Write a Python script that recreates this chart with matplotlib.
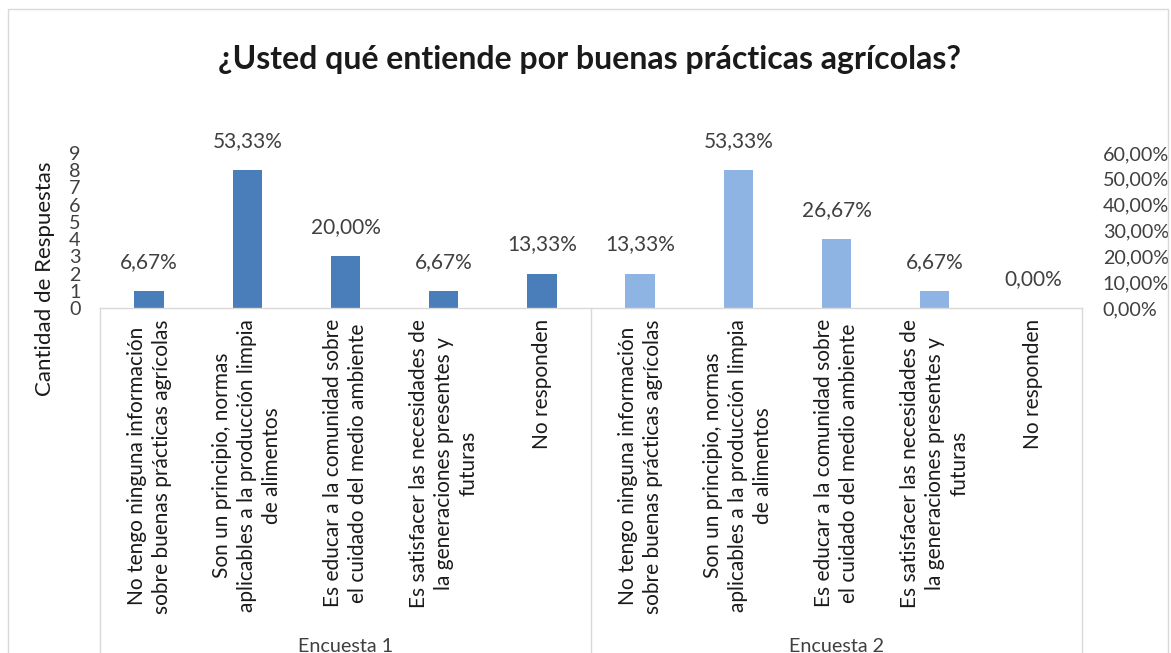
import matplotlib
matplotlib.use("Agg")
import matplotlib.pyplot as plt
from matplotlib.transforms import blended_transform_factory
from matplotlib.lines import Line2D
from matplotlib.patches import Rectangle

# ---- data ----
categories = [
    "No tengo ninguna información\nsobre buenas prácticas agrícolas",
    "Son un principio, normas\naplicables a la producción limpia\nde alimentos",
    "Es educar a la comunidad sobre\nel cuidado del medio ambiente",
    "Es satisfacer las necesidades de\nla generaciones presentes y\nfuturas",
    "No responden",
]
groups = ["Encuesta 1", "Encuesta 2"]
counts_e1 = [1, 8, 3, 1, 2]
counts_e2 = [2, 8, 4, 1, 0]
pct_e1 = [6.67, 53.33, 20.00, 6.67, 13.33]
pct_e2 = [13.33, 53.33, 26.67, 6.67, 0.00]
left_ticks = [0, 1, 2, 3, 4, 5, 6, 7, 8, 9]
right_ticks = [0, 10, 20, 30, 40, 50, 60]

title = "¿Usted qué entiende por buenas prácticas agrícolas?"
ylabel = "Cantidad de Respuestas"

color_e1 = "#4a7ebb"
color_e2 = "#8db4e2"
grid_col = "#d9d9d9"
txt_dark = "#404040"

plt.rcParams['font.family'] = ['Lato', 'DejaVu Sans']

W, H = 1171, 653
fig = plt.figure(figsize=(W / 100, H / 100), dpi=100)

# chart outer frame
fig.add_artist(Rectangle((8 / W, -0.05), (1168 - 8) / W, 1.05 - 9 / H,
                         transform=fig.transFigure, fill=False,
                         edgecolor=grid_col, linewidth=1.0))

ax_left, ax_right, ax_bot, ax_top = 100, 1082, 308, 153
ax = fig.add_axes([ax_left / W, (H - ax_bot) / H,
                   (ax_right - ax_left) / W, (ax_bot - ax_top) / H])

n = len(categories)
x1 = list(range(n))
x2 = list(range(n, 2 * n))
bw = 0.30
ax.bar(x1, counts_e1, width=bw, color=color_e1)
ax.bar(x2, counts_e2, width=bw, color=color_e2)

ax.set_xlim(-0.5, 2 * n - 0.5)
ax.set_ylim(left_ticks[0], left_ticks[-1])

fs_lab = 15
fs_tick = 14.2

def fmt(p):
    return f"{p:.2f}".replace('.', ',') + '%'

for xs, cs, ps in ((x1, counts_e1, pct_e1), (x2, counts_e2, pct_e2)):
    for xx, c, p in zip(xs, cs, ps):
        ax.annotate(fmt(p), (xx, c), xytext=(0, 21), textcoords='offset points',
                    ha='center', va='center', fontsize=fs_lab, color=txt_dark,
                    annotation_clip=False)

# spines
for s in ('top', 'left', 'right'):
    ax.spines[s].set_visible(False)
ax.spines['bottom'].set_color(grid_col)
ax.spines['bottom'].set_linewidth(1.0)

# left ticks
ax.set_yticks(left_ticks)
ax.set_yticklabels([str(t) for t in left_ticks])
ax.tick_params(axis='y', length=0, pad=14, labelsize=fs_tick, labelcolor=txt_dark)

# x tick labels (categories)
ax.set_xticks(x1 + x2)
ax.set_xticklabels(categories + categories, rotation=90, ha='center', va='top',
                   multialignment='center', fontsize=15, color='#1a1a1a',
                   linespacing=1.32)
ax.tick_params(axis='x', length=0, pad=8)

# y label
ax.set_ylabel(ylabel, fontsize=16, color='#1a1a1a')
ax.yaxis.set_label_coords((45 - ax_left) / (ax_right - ax_left),
                          (ax_bot - 279) / (ax_bot - ax_top))
ax.yaxis.label.set_rotation_mode('default')
ax.yaxis.label.set_va('center')
ax.yaxis.label.set_ha('center')

# right axis (percent)
ax2 = ax.twinx()
ax2.set_ylim(right_ticks[0], right_ticks[-1])
ax2.set_yticks(right_ticks)
ax2.set_yticklabels([fmt(t) for t in right_ticks])
ax2.tick_params(axis='y', length=0, pad=15, labelsize=fs_tick, labelcolor=txt_dark)
for s in ax2.spines.values():
    s.set_visible(False)

# group separators and labels
bt = blended_transform_factory(ax.transData, fig.transFigure)
base_y = (H - ax_bot) / H
for xs in (-0.5, n - 0.5, 2 * n - 0.5):
    ax.add_line(Line2D([xs, xs], [base_y, -0.01], transform=bt, color=grid_col,
                       linewidth=1.0, clip_on=False))
for g, xs in zip(groups, (x1, x2)):
    ax.text(sum(xs) / len(xs), 1 - 638 / H, g, transform=bt, ha='center', va='top',
            fontsize=fs_tick, color=txt_dark)

# title
fig.text(590 / W, 1 - 59 / H, title, ha='center', va='center', fontsize=23,
         fontweight='bold', color='#1a1a1a')

fig.savefig("out.png", dpi=100)
